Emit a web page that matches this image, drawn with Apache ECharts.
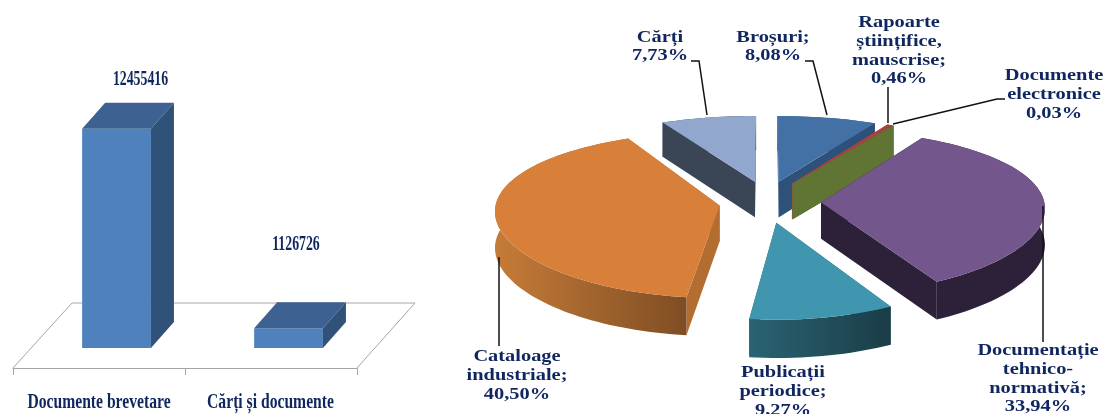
<!DOCTYPE html>
<html><head><meta charset="utf-8">
<style>html,body{margin:0;padding:0;background:#fff}#c{width:1106px;height:414px}</style>
<script src="https://cdn.jsdelivr.net/npm/echarts@6/dist/echarts.min.js"></script>
</head><body><div id="c"></div>
<script>
// ---- data ----
const barCategories = ['Documente brevetare', 'Cărți și documente'];
const barValues = [12455416, 1126726];
const pieNames = ['Broșuri', 'Rapoarte științifice, mauscrise', 'Documente electronice', 'Documentație tehnico-normativă', 'Publicații periodice', 'Cataloage industriale', 'Cărți'];
const pieValues = [8.08, 0.46, 0.03, 33.94, 9.27, 40.50, 7.73];
const pieLabels = [
  'Broșuri;\n8,08%',
  'Rapoarte\nștiințifice,\nmauscrise;\n0,46%',
  'Documente\nelectronice\n0,03%',
  'Documentație\ntehnico-\nnormativă;\n33,94%',
  'Publicații\nperiodice;\n9,27%',
  'Cataloage\nindustriale;\n40,50%',
  'Cărți\n7,73%'
];

// ---- style ----
const NAVY = '#10265f';
const GREY = '#a6a6a6';
const sliceStyles = [
  {top:'#4371a6', side:'#2e5179', rim:'#2e5179', nudge:-4, apexDrop:1},
  {top:'#a8423f', side:'#a8423f', rim:'#7a2f2d', nudge:-3, apexDrop:1},
  {top:'#607434', side:'#607434', rim:'#4c5c29', nudge:-3, apexDrop:1},
  {top:'#72568c', side:'#2c2138', rim:'#2c2138', nudge:0, apexDrop:4},
  {top:'#4096ae', side:'#2a6373', rim:['#2a6373','#1a3d47'], nudge:-3, apexDrop:6},
  {top:'#d8803a', side:'#b36d30', rim:['#c67c38','#7f4d24'], nudge:0, apexDrop:4},
  {top:'#92a7ce', side:'#3a4556', rim:'#3a4556', nudge:-3, apexDrop:1}
];
const drawOrder = [6, 0, 1, 2, 3, 4, 5];
const pieCx = 770, pieCy = 198, pieRx = 222, pieRy = 80, persp = 0.158, perspX = 0.1, explode = 0.23, depth = 36;
const labelPos = [[773,46.5],[899,51],[1054,94.5],[1038,379],[783,391.5],[517,375.5],[660,46.5]];
const leaders = [
  [[691,61],[699,61],[707,115]],
  [[805,61],[813,61],[827,115]],
  [[888,87],[888,123]],
  [[1005,99],[997,99],[893,124]],
  [[499,257],[499,346]],
  [[1043,206],[1043,342]]
];

function proj(X, Y, down, nudge) {
  return [pieCx + (nudge || 0) + pieRx * X / (1 + perspX * Y),
          pieCy - pieRy * Y / (1 + persp * Y) + (down ? depth / (1 + 0.05 * Y) : 0)];
}
const total = pieValues.reduce((a, b) => a + b, 0);
function sliceAngles(i) {
  let s = 0;
  for (let k = 0; k < i; k++) s += pieValues[k];
  return [s / total * 2 * Math.PI, (s + pieValues[i]) / total * 2 * Math.PI];
}
function renderSlice(params, api) {
  const i = api.value(0);
  const [a0, a1] = sliceAngles(i);
  const mid = (a0 + a1) / 2;
  const st = sliceStyles[i];
  const ex = explode * Math.sin(mid), ey = explode * Math.cos(mid);
  const n = Math.max(2, Math.ceil((a1 - a0) / 0.03));
  const rimW = [];
  for (let k = 0; k <= n; k++) {
    const a = a0 + (a1 - a0) * k / n;
    rimW.push([ex + Math.sin(a), ey + Math.cos(a)]);
  }
  const P = (x, y, d) => proj(x, y, d, st.nudge);
  const apex = d => { const p = P(ex, ey, d); return [p[0], p[1] + st.apexDrop]; };
  const topPts = [apex(false)].concat(rimW.map(p => P(p[0], p[1])));
  const rimPts = rimW.map(p => P(p[0], p[1])).concat(rimW.slice().reverse().map(p => P(p[0], p[1], true)));
  const face = w => [apex(false), P(w[0], w[1]), P(w[0], w[1], true), apex(true)];
  const rimFill = Array.isArray(st.rim)
    ? {type:'linear', x:0, y:0, x2:1, y2:0, colorStops:[{offset:0,color:st.rim[0]},{offset:1,color:st.rim[1]}]}
    : st.rim;
  return {type:'group', children:[
    {type:'polygon', shape:{points:face(rimW[0])}, style:{fill:st.side}},
    {type:'polygon', shape:{points:face(rimW[n])}, style:{fill:st.side}},
    {type:'polygon', shape:{points:rimPts}, style:{fill:rimFill}},
    {type:'polygon', shape:{points:topPts}, style:{fill:st.top}}
  ]};
}
function renderBar(params, api) {
  const x = api.value(0), v = api.value(1);
  const band = api.size([1, 0])[0];
  const w = band * 0.4, shift = band * 0.102;
  const c = api.coord([x, v]), b = api.coord([x, 0]);
  const l = c[0] - w / 2 + shift, r = l + w, t = c[1], bot = b[1];
  const dx = 23, dy = 26;
  return {type:'group', children:[
    {type:'polygon', shape:{points:[[l,bot],[r,bot],[r,t],[l,t]]}, style:{fill:'#4f81bd'}},
    {type:'polygon', shape:{points:[[l,t],[r,t],[r+dx,t-dy],[l+dx,t-dy]]}, style:{fill:'#3d6291'}},
    {type:'polygon', shape:{points:[[r,bot],[r+dx,bot-dy],[r+dx,t-dy],[r,t]]}, style:{fill:'#315278'}}
  ]};
}
const serif = 'bold {s}px "Liberation Serif"';
function txt(text, x, y, size, sx, lh) {
  return {type:'text', x, y, scaleX:sx, z:10, style:{text, fill:NAVY, font:serif.replace('{s}', size), align:'center', verticalAlign:'middle', lineHeight:lh || size, shadowBlur:1, shadowColor:NAVY}};
}
const graphics = [
  {type:'polyline', z:0, shape:{points:[[13,368],[72,303],[415,303],[357,368]]}, style:{stroke:GREY, lineWidth:1, fill:null}},
  txt(String(barValues[0]), 140.5, 80, 20, 0.69),
  txt(String(barValues[1]), 296, 245, 20, 0.69),
  txt(barCategories[0], 99, 403, 21, 0.745),
  txt(barCategories[1], 270.5, 403, 21, 0.745)
];
leaders.forEach(p => graphics.push({type:'polyline', z:9, shape:{points:p}, style:{stroke:'#111', lineWidth:1.5, fill:null}}));
pieLabels.forEach((t, i) => graphics.push(txt(t, labelPos[i][0], labelPos[i][1], 17, 1.2, 18.7)));

const chart = echarts.init(document.getElementById('c'), null, {renderer:'canvas'});
chart.setOption({
  animation:false,
  backgroundColor:'#fff',
  grid:{left:13, width:344, top:128, height:220},
  xAxis:{type:'category', data:barCategories, offset:20,
    axisLine:{onZero:false, lineStyle:{color:GREY, width:1}}, axisTick:{show:true, length:7, lineStyle:{color:GREY}}, axisLabel:{show:false}},
  yAxis:{type:'value', min:0, max:12500000, show:false},
  graphic:graphics,
  series:[
    {type:'custom', name:'Documente', coordinateSystem:'cartesian2d', encode:{x:0, y:1}, data:barValues.map((v,i)=>[i,v]), renderItem:renderBar, silent:true, z:3},
    {type:'custom', name:'Structura', coordinateSystem:'none', data:drawOrder.map(i=>[i, pieValues[i]]), renderItem:renderSlice, silent:true, z:3}
  ]
});
</script></body></html>
